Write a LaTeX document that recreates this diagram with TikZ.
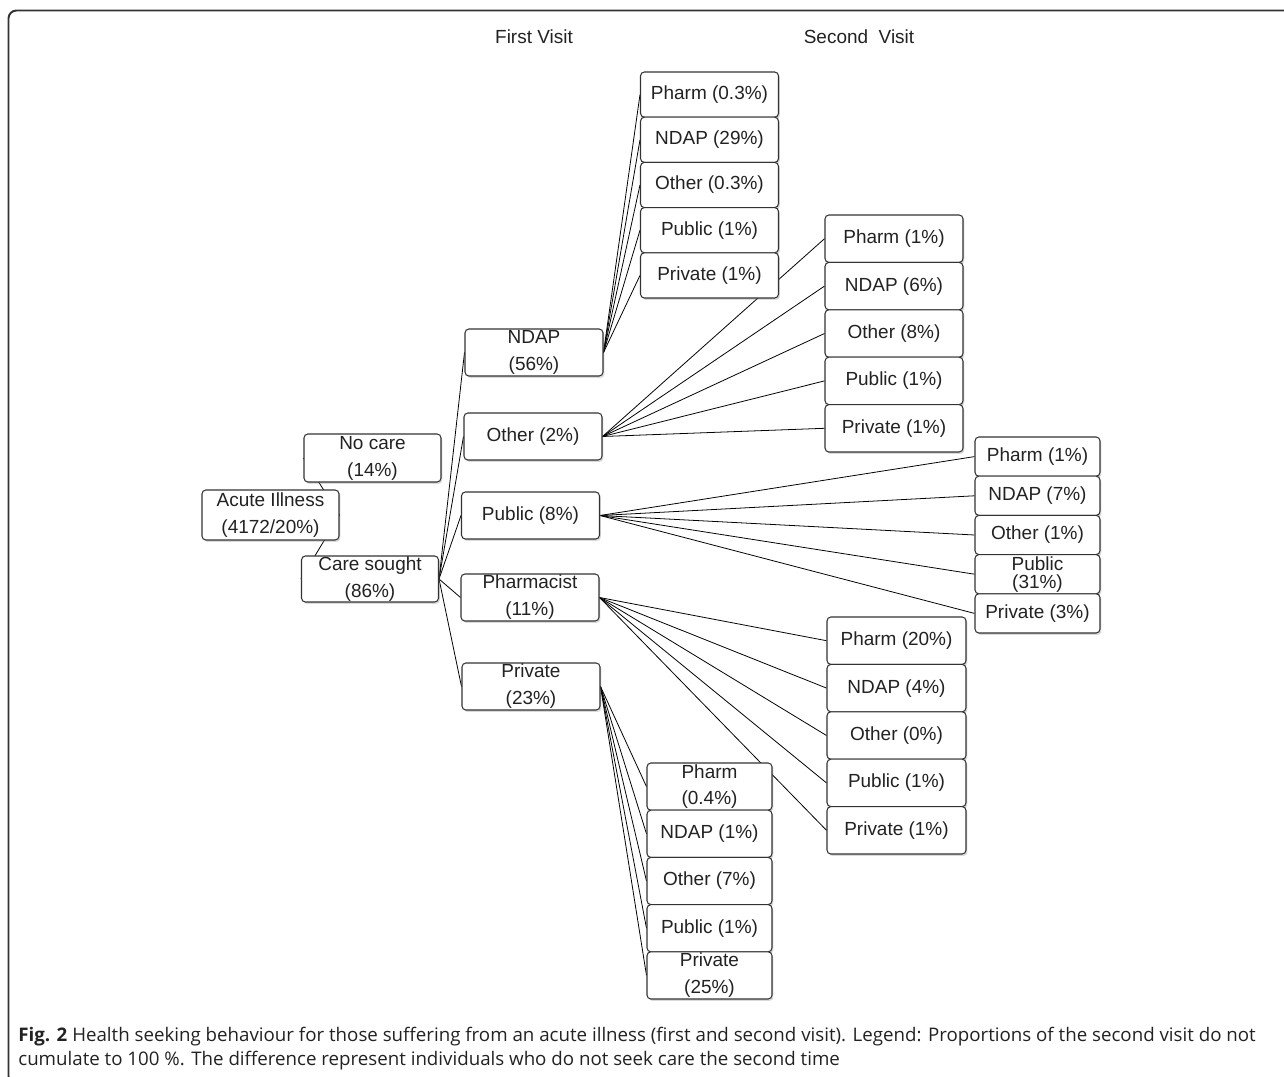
\documentclass[tikz,border=0pt]{standalone}
\usepackage{fontspec}
\setmainfont{Liberation Sans}
\newfontfamily\capfont{Open Sans}
\usepackage{tikz}
\usetikzlibrary{shadows}
\usetikzlibrary{backgrounds}
\usetikzlibrary{positioning}
\definecolor{boxline}{HTML}{333333}
\definecolor{txt}{HTML}{222222}
\tikzset{
  visitbox/.style={rectangle,rounded corners=2.2pt,draw=boxline,line width=0.6pt,fill=white,
    drop shadow={shadow xshift=0.8pt,shadow yshift=-1.1pt,opacity=0.3},
    inner sep=0pt,align=center,text=txt,font=\fontsize{10.8}{15.3}\selectfont},
  tight/.style={font=\fontsize{10.8}{10.2}\selectfont}
}

\begin{document}
\begin{tikzpicture}[x=0.02cm,y=-0.02cm]
      \useasboundingbox (0,0) rectangle (1284,1077);
      \draw[draw=boxline,line width=1.1pt,rounded corners=4.5pt] (1290,10.5) -| (8.5,1084) -- (1290,1084);
      \node[text=txt,font=\fontsize{10.8}{13}\selectfont] (first) at (534,37) {First Visit};
      \node[text=txt,font=\fontsize{10.8}{13}\selectfont] (second) at (859,37) {Second\ \ Visit};
      \begin{scope}[every node/.style={visitbox,minimum width=2.74cm,minimum height=0.96cm}]
        \node[minimum height=1cm] (acute) at (270.5,515) {Acute Illness\\(4172/20\%)};
        \node (nocare) at (372.5,458) {No care\\(14\%)};
        \node[minimum height=0.92cm] (care) at (370,579) {Care sought\\(86\%)};
      \end{scope}
      \begin{scope}[every node/.style={visitbox,minimum width=2.76cm,minimum height=0.94cm}]
        \node (ndap) at (534,352.5) {NDAP\\(56\%)};
        \node (other) at (533,436.5) {Other (2\%)};
        \node (public) at (530.5,515.5) {Public (8\%)};
        \node (pharmacist) at (530,597.5) {Pharmacist\\(11\%)};
        \node (private) at (531,686.5) {Private\\(23\%)};
      \end{scope}
      \begin{scope}[every node/.style={visitbox,minimum width=2.76cm,minimum height=0.904cm}]
        \node (n1) at (709.5,94.6) {Pharm (0.3\%)};
        \node (n2) at (709.5,139.8) {NDAP (29\%)};
        \node (n3) at (709.5,185) {Other (0.3\%)};
        \node (n4) at (709.5,230.2) {Public (1\%)};
        \node (n5) at (709.5,275.4) {Private (1\%)};
      \end{scope}
      \begin{scope}[every node/.style={visitbox,minimum width=2.76cm,minimum height=0.948cm}]
        \node (o1) at (894,238.7) {Pharm (1\%)};
        \node (o2) at (894,286.1) {NDAP (6\%)};
        \node (o3) at (894,333.5) {Other (8\%)};
        \node (o4) at (894,380.9) {Public (1\%)};
        \node (o5) at (894,428.3) {Private (1\%)};
      \end{scope}
      \begin{scope}[every node/.style={visitbox,minimum width=2.5cm,minimum height=0.784cm}]
        \node (u1) at (1037.5,456.6) {Pharm (1\%)};
        \node (u2) at (1037.5,495.8) {NDAP (7\%)};
        \node (u3) at (1037.5,535) {Other (1\%)};
        \node[tight] (u4) at (1037.5,574.2) {Public\\(31\%)};
        \node (u5) at (1037.5,613.4) {Private (3\%)};
      \end{scope}
      \begin{scope}[every node/.style={visitbox,minimum width=2.78cm,minimum height=0.948cm}]
        \node (h1) at (896.5,640.7) {Pharm (20\%)};
        \node (h2) at (896.5,688.1) {NDAP (4\%)};
        \node (h3) at (896.5,735.5) {Other (0\%)};
        \node (h4) at (896.5,782.9) {Public (1\%)};
        \node (h5) at (896.5,830.3) {Private (1\%)};
      \end{scope}
      \begin{scope}[every node/.style={visitbox,minimum width=2.5cm,minimum height=0.944cm}]
        \node (p1) at (709.5,786.6) {Pharm\\(0.4\%)};
        \node (p2) at (709.5,833.8) {NDAP (1\%)};
        \node (p3) at (709.5,881) {Other (7\%)};
        \node (p4) at (709.5,928.2) {Public (1\%)};
        \node (p5) at (709.5,975.4) {Private\\(25\%)};
      \end{scope}
      \begin{scope}[on background layer,every edge/.style={draw=black,line width=0.45pt}]
        \path (acute.east) edge (nocare.west);
        \path (acute.east) edge (care.west);
        \path (care.east) edge (ndap.west);
        \path (care.east) edge (other.west);
        \path (care.east) edge (public.west);
        \path (care.east) edge (pharmacist.west);
        \path (care.east) edge (private.west);
        \path (ndap.east) edge (n1.west);
        \path (ndap.east) edge (n2.west);
        \path (ndap.east) edge (n3.west);
        \path (ndap.east) edge (n4.west);
        \path (ndap.east) edge (n5.west);
        \path (other.east) edge (o1.west);
        \path (other.east) edge (o2.west);
        \path (other.east) edge (o3.west);
        \path (other.east) edge (o4.west);
        \path (other.east) edge (o5.west);
        \path (public.east) edge (u1.west);
        \path (public.east) edge (u2.west);
        \path (public.east) edge (u3.west);
        \path (public.east) edge (u4.west);
        \path (public.east) edge (u5.west);
        \path (pharmacist.east) edge (h1.west);
        \path (pharmacist.east) edge (h2.west);
        \path (pharmacist.east) edge (h3.west);
        \path (pharmacist.east) edge (h4.west);
        \path (pharmacist.east) edge (h5.west);
        \path (private.east) edge (p1.west);
        \path (private.east) edge (p2.west);
        \path (private.east) edge (p3.west);
        \path (private.east) edge (p4.west);
        \path (private.east) edge (p5.west);
      \end{scope}
      \node[anchor=base west,align=left,inner sep=0pt,text=txt,font=\capfont\fontsize{10.65}{13.6}\selectfont] (caption) at (18,1065)
        {{\bfseries Fig. 2} Health seeking behaviour for those suffering from an acute illness (first and second visit). Legend: Proportions of the second visit do not\\
        cumulate to 100 \%. The difference represent individuals who do not seek care the second time};
    \end{tikzpicture}
\end{document}
